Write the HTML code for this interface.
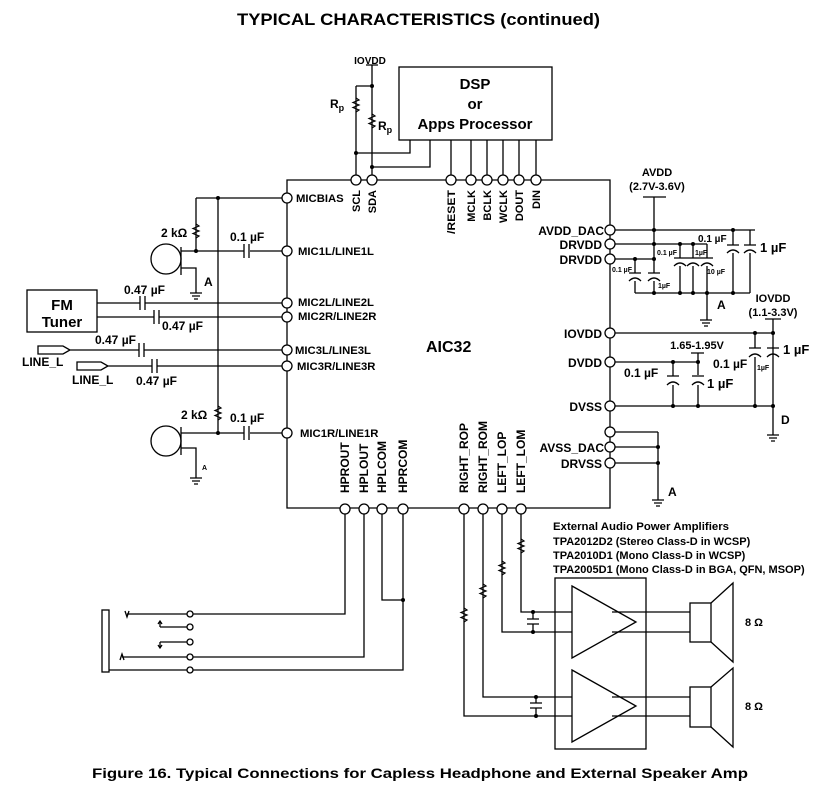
<!DOCTYPE html>
<html><head><meta charset="utf-8"><style>
html,body{margin:0;padding:0;background:#fff;}
svg{display:block;}
text{font-family:"Liberation Sans",sans-serif;font-weight:bold;fill:#000;}
</style></head><body>
<svg width="828" height="792" viewBox="0 0 828 792" xmlns="http://www.w3.org/2000/svg">
<g stroke="#000" stroke-width="1.3" fill="none">
<path d="M287 180 H610 V508 H287 Z"/>
<rect x="399" y="67" width="153" height="73"/>
<path d="M366 65 H378 M372 65 V180 M356 86 H372 M356 86 V180"/>
<path d="M356 153 H410 V140 M372 167 H430 V140"/>
<path d="M451 140 V180 M471 140 V180 M487 140 V180 M503 140 V180 M519 140 V180 M536 140 V180"/>
<path d="M196 198 H287 M218 198 V433"/>
<path d="M196 198 V251 M181 251 H244 M250 251 H287"/>
<path d="M244 244 V258 M249 244 V258"/>
<path d="M181 247 V275 M181 268 H196 V293"/>
<circle cx="166" cy="259" r="15"/>
<path d="M190 293 H202 M192 296 H200 M194 299 H198"/>
<path d="M181 433 H244 M250 433 H287 M244 426 V440 M249 426 V440"/>
<path d="M181 427 V455 M181 448 H196 V478"/>
<circle cx="166" cy="441" r="15"/>
<path d="M190 478 H202 M192 481 H200 M194 484 H198"/>
<rect x="27" y="290" width="70" height="42"/>
<path d="M97 303 H140 M145 303 H287 M140 296 V310 M145 296 V310"/>
<path d="M97 317 H154 M159 317 H287 M154 310 V324 M159 310 V324"/>
<path d="M38 346 H63 L70 350 L63 354 H38 Z M70 350 H139 M144 350 H287 M139 343 V357 M144 343 V357"/>
<path d="M77 362 H101 L108 366 L101 370 H77 Z M108 366 H152 M157 366 H287 M152 359 V373 M157 359 V373"/>
<path d="M345 508 V614 H193 M364 508 V657 H193 M382 508 V600 H403 M403 508 V670 H193"/>
<rect x="102" y="610" width="7" height="62"/>
<path d="M127 614 H187 M122 657 H187 M109 670 H187 M160 627 H187 M160 642 H187 M160 627 V622 M160 642 V648"/>
<path d="M125 611 L127 617 L129 611 M120 660 L122 654 L124 660 M158 624 L160 621 L162 624 M158 645 L160 648 L162 645"/>
<circle cx="190" cy="614" r="3"/><circle cx="190" cy="627" r="3"/><circle cx="190" cy="642" r="3"/><circle cx="190" cy="657" r="3"/><circle cx="190" cy="670" r="3"/>
<path d="M521 508 V612 H572 M502 508 V632 H572 M483 508 V697 H572 M464 508 V716 H572"/>
<path d="M533 612 V619 M527 619 H539 M527 624 H539 M533 624 V632"/>
<path d="M536 697 V703 M530 703 H542 M530 708 H542 M536 708 V716"/>
<rect x="555" y="578" width="91" height="171"/>
<path d="M572 586 L636 622 L572 658 Z M572 670 L636 706 L572 742 Z"/>
<path d="M612 612 H690 M612 632 H690 M612 697 H690 M612 716 H690"/>
<rect x="690" y="603" width="21" height="39"/>
<path d="M711 603 L733 583 V662 L711 642"/>
<rect x="690" y="687" width="21" height="40"/>
<path d="M711 687 L733 668 V747 L711 727"/>
<path d="M643 197 H666 M654 197 V259 M615 230 H755 M615 244 H707 M615 259 H654 M635 259 V273 M654 259 V273"/>
<path d="M680 244 V258 M693 244 V258 M707 244 V258 M733 230 V245 M750 230 V245"/>
<path d="M635 281 V293 M654 281 V293 M680 266 V293 M693 266 V293 M707 266 V320 M733 253 V293 M750 253 V293 M635 293 H750"/>
<path d="M700 320 H712 M702 323 H710 M704 326 H708"/>
<path d="M765 319 H781 M773 319 V435 M615 333 H773 M755 333 V348 M773 333 V348 M755 357 V406 M773 357 V406"/>
<path d="M767 435 H779 M769 438 H777 M771 441 H775"/>
<path d="M691 353 H704 M698 353 V375 M615 362 H698 M673 362 V376 M673 385 V406 M698 385 V406 M615 406 H773"/>
<path d="M615 432 H658 M615 447 H658 M615 463 H658 M658 432 V500 M652 500 H664 M654 503 H662 M656 506 H660"/>
</g>
<g stroke="#000" stroke-width="1.3" fill="none">
<path d="M629 273 H641 M629 281 Q635 275 641 281"/>
<path d="M648 273 H660 M648 281 Q654 275 660 281"/>
<path d="M674 258 H713 M674 266 Q680 260 686 266 M687 266 Q693 260 699 266 M701 266 Q707 260 713 266"/>
<path d="M727 245 H739 M727 253 Q733 247 739 253"/>
<path d="M744 245 H756 M744 253 Q750 247 756 253"/>
<path d="M749 348 H761 M749 357 Q755 351 761 357"/>
<path d="M767 348 H779 M767 357 Q773 351 779 357"/>
<path d="M667 376 H679 M667 385 Q673 379 679 385"/>
<path d="M692 376 H704 M692 385 Q698 379 704 385"/>
</g>
<g stroke="#000" stroke-width="1.2" fill="none">
<path d="M356 98 l3 2 l-6 2.5 l6 2.5 l-6 2.5 l6 2.5 l-3 2"/>
<path d="M372 114 l3 2 l-6 2.5 l6 2.5 l-6 2.5 l6 2.5 l-3 2"/>
<path d="M196 224 l3 2 l-6 2.5 l6 2.5 l-6 2.5 l6 2.5 l-3 2"/>
<path d="M218 406 l3 2 l-6 2.5 l6 2.5 l-6 2.5 l6 2.5 l-3 2"/>
<path d="M521 539 l3 2 l-6 2.5 l6 2.5 l-6 2.5 l6 2.5 l-3 2"/>
<path d="M502 561 l3 2 l-6 2.5 l6 2.5 l-6 2.5 l6 2.5 l-3 2"/>
<path d="M483 584 l3 2 l-6 2.5 l6 2.5 l-6 2.5 l6 2.5 l-3 2"/>
<path d="M464 608 l3 2 l-6 2.5 l6 2.5 l-6 2.5 l6 2.5 l-3 2"/>
</g>
<g stroke="#000" stroke-width="1.3" fill="#fff">
<circle cx="356" cy="180" r="5"/><circle cx="372" cy="180" r="5"/>
<circle cx="451" cy="180" r="5"/><circle cx="471" cy="180" r="5"/><circle cx="487" cy="180" r="5"/><circle cx="503" cy="180" r="5"/><circle cx="519" cy="180" r="5"/><circle cx="536" cy="180" r="5"/>
<circle cx="287" cy="198" r="5"/><circle cx="287" cy="251" r="5"/><circle cx="287" cy="303" r="5"/><circle cx="287" cy="317" r="5"/><circle cx="287" cy="350" r="5"/><circle cx="287" cy="366" r="5"/><circle cx="287" cy="433" r="5"/>
<circle cx="610" cy="230" r="5"/><circle cx="610" cy="244" r="5"/><circle cx="610" cy="259" r="5"/><circle cx="610" cy="333" r="5"/><circle cx="610" cy="362" r="5"/><circle cx="610" cy="406" r="5"/><circle cx="610" cy="432" r="5"/><circle cx="610" cy="447" r="5"/><circle cx="610" cy="463" r="5"/>
<circle cx="345" cy="509" r="5"/><circle cx="364" cy="509" r="5"/><circle cx="382" cy="509" r="5"/><circle cx="403" cy="509" r="5"/>
<circle cx="464" cy="509" r="5"/><circle cx="483" cy="509" r="5"/><circle cx="502" cy="509" r="5"/><circle cx="521" cy="509" r="5"/>
</g>
<g fill="#000">
<circle cx="372" cy="86" r="2"/><circle cx="356" cy="153" r="2"/><circle cx="372" cy="167" r="2"/>
<circle cx="218" cy="198" r="2"/><circle cx="196" cy="251" r="2"/><circle cx="218" cy="433" r="2"/>
<circle cx="403" cy="600" r="2"/>
<circle cx="533" cy="612" r="2"/><circle cx="533" cy="632" r="2"/><circle cx="536" cy="697" r="2"/><circle cx="536" cy="716" r="2"/>
<circle cx="654" cy="230" r="2"/><circle cx="733" cy="230" r="2"/><circle cx="654" cy="244" r="2"/><circle cx="680" cy="244" r="2"/><circle cx="693" cy="244" r="2"/><circle cx="654" cy="259" r="2"/><circle cx="635" cy="259" r="2"/>
<circle cx="654" cy="293" r="2"/><circle cx="680" cy="293" r="2"/><circle cx="693" cy="293" r="2"/><circle cx="707" cy="293" r="2"/><circle cx="733" cy="293" r="2"/>
<circle cx="755" cy="333" r="2"/><circle cx="773" cy="333" r="2"/><circle cx="673" cy="362" r="2"/><circle cx="698" cy="362" r="2"/>
<circle cx="673" cy="406" r="2"/><circle cx="698" cy="406" r="2"/><circle cx="755" cy="406" r="2"/><circle cx="773" cy="406" r="2"/>
<circle cx="658" cy="447" r="2"/><circle cx="658" cy="463" r="2"/>
</g>
<text x="237" y="25" font-size="17" textLength="363" lengthAdjust="spacingAndGlyphs">TYPICAL CHARACTERISTICS (continued)</text>
<text x="92" y="778" font-size="14" textLength="656" lengthAdjust="spacingAndGlyphs">Figure 16. Typical Connections for Capless Headphone and External Speaker Amp</text>
<text x="475" y="89" font-size="15" text-anchor="middle">DSP</text>
<text x="475" y="109" font-size="15" text-anchor="middle">or</text>
<text x="475" y="129" font-size="15" text-anchor="middle">Apps Processor</text>
<text x="370" y="64" font-size="10" text-anchor="middle">IOVDD</text>
<text x="330" y="108" font-size="12">R<tspan font-size="9" dy="3">p</tspan></text>
<text x="378" y="130" font-size="12">R<tspan font-size="9" dy="3">p</tspan></text>
<text x="426" y="352" font-size="16">AIC32</text>
<g font-size="11.3">
<text x="296" y="202">MICBIAS</text>
<text x="298" y="255">MIC1L/LINE1L</text>
<text x="298" y="306">MIC2L/LINE2L</text>
<text x="298" y="320">MIC2R/LINE2R</text>
<text x="295" y="354">MIC3L/LINE3L</text>
<text x="297" y="370">MIC3R/LINE3R</text>
<text x="300" y="437">MIC1R/LINE1R</text>
</g>
<g font-size="12">
<text x="604" y="235" text-anchor="end">AVDD_DAC</text>
<text x="602" y="249" text-anchor="end">DRVDD</text>
<text x="602" y="264" text-anchor="end">DRVDD</text>
<text x="602" y="338" text-anchor="end">IOVDD</text>
<text x="602" y="367" text-anchor="end">DVDD</text>
<text x="602" y="411" text-anchor="end">DVSS</text>
<text x="604" y="452" text-anchor="end">AVSS_DAC</text>
<text x="602" y="468" text-anchor="end">DRVSS</text>
<text transform="translate(468,493) rotate(-90)">RIGHT_ROP</text>
<text transform="translate(487,493) rotate(-90)">RIGHT_ROM</text>
<text transform="translate(506,493) rotate(-90)">LEFT_LOP</text>
<text transform="translate(525,493) rotate(-90)">LEFT_LOM</text>
<text transform="translate(349,493) rotate(-90)">HPROUT</text>
<text transform="translate(368,493) rotate(-90)">HPLOUT</text>
<text transform="translate(386,493) rotate(-90)">HPLCOM</text>
<text transform="translate(407,493) rotate(-90)">HPRCOM</text>
</g>
<g font-size="11">
<text transform="translate(360,190) rotate(-90)" text-anchor="end">SCL</text>
<text transform="translate(376,190) rotate(-90)" text-anchor="end">SDA</text>
<text transform="translate(455,190) rotate(-90)" text-anchor="end" textLength="44" lengthAdjust="spacingAndGlyphs">/RESET</text>
<text transform="translate(475,190) rotate(-90)" text-anchor="end">MCLK</text>
<text transform="translate(491,190) rotate(-90)" text-anchor="end">BCLK</text>
<text transform="translate(507,190) rotate(-90)" text-anchor="end">WCLK</text>
<text transform="translate(523,190) rotate(-90)" text-anchor="end">DOUT</text>
<text transform="translate(540,190) rotate(-90)" text-anchor="end">DIN</text>
<text x="553" y="530" textLength="176" lengthAdjust="spacingAndGlyphs">External Audio Power Amplifiers</text>
<text x="553" y="545">TPA2012D2 (Stereo Class-D in WCSP)</text>
<text x="553" y="559">TPA2010D1 (Mono Class-D in WCSP)</text>
<text x="553" y="573">TPA2005D1 (Mono Class-D in BGA, QFN, MSOP)</text>
<text x="657" y="176" text-anchor="middle">AVDD</text>
<text x="657" y="190" text-anchor="middle">(2.7V-3.6V)</text>
<text x="773" y="302" text-anchor="middle">IOVDD</text>
<text x="773" y="316" text-anchor="middle">(1.1-3.3V)</text>
<text x="697" y="349" text-anchor="middle">1.65-1.95V</text>
<text x="745" y="626" font-weight="normal">8 Ω</text>
<text x="745" y="710" font-weight="normal">8 Ω</text>
</g>
<g font-size="12">
<text x="161" y="237">2 kΩ</text>
<text x="230" y="241">0.1 µF</text>
<text x="181" y="419">2 kΩ</text>
<text x="230" y="422">0.1 µF</text>
<text x="124" y="294">0.47 µF</text>
<text x="162" y="330">0.47 µF</text>
<text x="95" y="344">0.47 µF</text>
<text x="136" y="385">0.47 µF</text>
<text x="22" y="366">LINE_L</text>
<text x="72" y="384">LINE_L</text>
<text x="204" y="286">A</text>
<text x="717" y="309">A</text>
<text x="668" y="496">A</text>
<text x="781" y="424">D</text>
<text x="62" y="310" text-anchor="middle" font-size="15">FM</text>
<text x="62" y="327" text-anchor="middle" font-size="15">Tuner</text>
<text x="698" y="242" font-size="10">0.1 µF</text>
<text x="760" y="252" font-size="13">1 µF</text>
<text x="624" y="377">0.1 µF</text>
<text x="707" y="388" font-size="13">1 µF</text>
<text x="713" y="368">0.1 µF</text>
<text x="783" y="354" font-size="13">1 µF</text>
</g>
<g font-size="7">
<text x="202" y="470">A</text>
<text x="657" y="255">0.1 µF</text>
<text x="695" y="255">1µF</text>
<text x="707" y="274">10 µF</text>
<text x="612" y="272">0.1 µF</text>
<text x="658" y="288">1µF</text>
<text x="757" y="370">1µF</text>
</g>
</svg>
</body></html>
